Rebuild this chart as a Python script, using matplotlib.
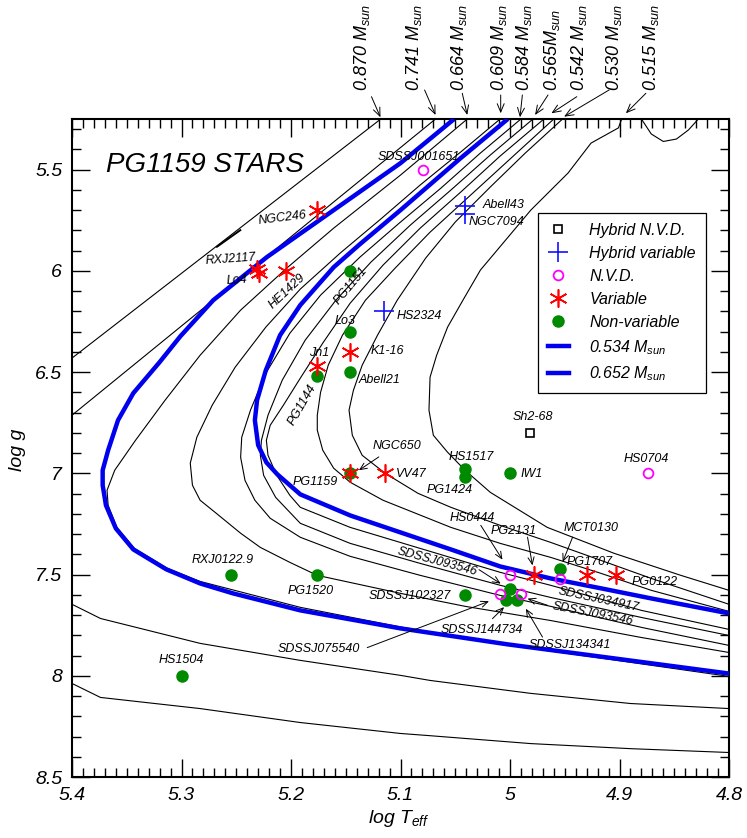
import numpy as np
import matplotlib
matplotlib.use('Agg')
import matplotlib.pyplot as plt
from matplotlib.lines import Line2D
from matplotlib.ticker import MultipleLocator, FixedLocator, FixedFormatter

plt.rcParams['font.family'] = ['Liberation Sans', 'DejaVu Sans']
plt.rcParams['font.style'] = 'italic'
plt.rcParams['mathtext.fontset'] = 'custom'
plt.rcParams['mathtext.it'] = 'Liberation Sans:italic'
plt.rcParams['mathtext.rm'] = 'Liberation Sans:italic'
plt.rcParams['mathtext.default'] = 'it'

nan = np.nan

# ---------------- evolutionary tracks (log Teff, log g) ----------------
track_0870_T = [5.118, 5.400, nan, 5.400, 5.374, 5.283, 5.1915, 5.100, 5.073, 4.981, 4.890, 4.800]
track_0870_g = [5.250, 6.431, nan, 8.038, 8.107, 8.162, 8.231, 8.285, 8.296, 8.335, 8.360, 8.379]
track_0870_loop_T = [5.2676, 5.2463]
track_0870_loop_g = [5.881, 5.799]

track_0741_T = [5.068, 5.400, nan, 5.400, 5.374, 5.283, 5.1915, 5.100, 5.073, 4.981, 4.890, 4.800]
track_0741_g = [5.250, 6.713, nan, 7.647, 7.717, 7.840, 7.924, 7.998, 8.023, 8.087, 8.137, 8.162]

track_0664_T = [5.039, 5.100, 5.161, 5.204, 5.246, 5.283, 5.315, 5.342, 5.361, 5.368, 5.367, 5.359,
                5.343, 5.313, 5.283, 5.1915, 5.100, 5.002, 4.905, 4.800]
track_0664_g = [5.250, 5.527, 5.789, 5.987, 6.194, 6.417, 6.639, 6.837, 6.985, 7.084, 7.158, 7.267,
                7.371, 7.469, 7.534, 7.662, 7.759, 7.848, 7.922, 8.003]

track_0609_T = [5.009, 5.045, 5.082, 5.118, 5.155, 5.1915, 5.223, 5.251, 5.272, 5.286, 5.292, 5.290,
                5.283, 5.267, 5.246, 5.228, 5.201, 5.176, 5.100, 5.041, 4.963, 4.880, 4.800]
track_0609_g = [5.250, 5.413, 5.576, 5.744, 5.912, 6.090, 6.278, 6.476, 6.664, 6.822, 6.950, 7.059,
                7.133, 7.203, 7.296, 7.366, 7.440, 7.504, 7.593, 7.657, 7.727, 7.811, 7.885]

track_0584_T = [4.990, 5.027, 5.063, 5.100, 5.137, 5.173, 5.201, 5.223, 5.237, 5.245, 5.246, 5.242,
                5.233, 5.219, 5.1915, 5.146, 5.082, 5.009, 4.963, 4.880, 4.800]
track_0584_g = [5.250, 5.418, 5.591, 5.759, 5.932, 6.120, 6.308, 6.506, 6.688, 6.822, 6.921, 7.035,
                7.133, 7.222, 7.316, 7.410, 7.504, 7.603, 7.657, 7.761, 7.850]

track_extra_T = [4.979, 5.018, 5.054, 5.091, 5.127, 5.159, 5.187, 5.208, 5.221, 5.227, 5.228, 5.225,
                 5.214, 5.1915, 5.146, 5.082, 5.009, 4.963, 4.880, 4.800]
track_extra_g = [5.250, 5.428, 5.601, 5.774, 5.957, 6.145, 6.342, 6.540, 6.713, 6.837, 6.911, 7.010,
                 7.119, 7.247, 7.346, 7.445, 7.553, 7.613, 7.712, 7.801]

track_0565_T = [4.969, 5.009, 5.045, 5.082, 5.116, 5.146, 5.171, 5.1915, 5.207, 5.219, 5.2225, 5.221,
                5.213, 5.201, 5.1915, 5.146, 5.082, 5.009, 4.963, 4.880, 4.800]
track_0565_g = [5.250, 5.433, 5.611, 5.789, 5.972, 6.160, 6.357, 6.530, 6.664, 6.763, 6.837, 6.911,
                7.010, 7.109, 7.168, 7.267, 7.371, 7.489, 7.553, 7.677, 7.771]

track_0542_T = [4.960, 4.999, 5.036, 5.073, 5.105, 5.132, 5.153, 5.166, 5.173, 5.176, 5.176, 5.171,
                5.161, 5.146, 5.116, 5.054, 5.009, 4.963, 4.917, 4.871, 4.800]
track_0542_g = [5.250, 5.443, 5.626, 5.809, 5.987, 6.145, 6.318, 6.466, 6.600, 6.713, 6.787, 6.886,
                6.975, 7.044, 7.133, 7.267, 7.346, 7.415, 7.494, 7.578, 7.682]

track_0530_T = [4.952, 4.986, 5.018, 5.050, 5.077, 5.103, 5.121, 5.135, 5.143, 5.147, 5.144, 5.135,
                5.114, 5.084, 5.054, 5.009, 4.963, 4.917, 4.871, 4.800]
track_0530_g = [5.250, 5.418, 5.586, 5.759, 5.937, 6.145, 6.318, 6.466, 6.590, 6.688, 6.812, 6.911,
                7.000, 7.099, 7.168, 7.257, 7.341, 7.430, 7.519, 7.647]

track_0515_T = [4.880, 4.871, 4.860, 4.848, 4.837, 4.828, nan,
                4.898, 4.901, 4.926, 4.947, 4.981, 5.027, 5.043, 5.057, 5.067, 5.073, 5.074, 5.070,
                5.057, 5.041, 5.018, 4.966, 4.905, 4.844, 4.800]
track_0515_g = [5.250, 5.324, 5.361, 5.349, 5.304, 5.250, nan,
                5.250, 5.294, 5.369, 5.517, 5.700, 5.996, 6.145, 6.278, 6.417, 6.525, 6.688, 6.812,
                6.896, 6.985, 7.094, 7.267, 7.395, 7.504, 7.578]

blue_0534_T = [5.002, 5.045, 5.100, 5.137, 5.161, 5.1915, 5.210, 5.223, 5.231, 5.233, 5.230, 5.2225,
               5.2125, 5.1915, 5.146, 5.100, 5.054, 5.009, 4.963, 4.917, 4.871, 4.800]
blue_0534_g = [5.250, 5.443, 5.700, 5.868, 5.982, 6.169, 6.318, 6.491, 6.639, 6.738, 6.861, 6.946,
               7.005, 7.104, 7.208, 7.292, 7.376, 7.460, 7.519, 7.568, 7.618, 7.692]

blue_0652_T = [5.051, 5.100, 5.161, 5.222, 5.271, 5.301, 5.320, 5.344, 5.358, 5.367, 5.372, 5.372,
               5.369, 5.360, 5.344, 5.314, 5.283, 5.253, 5.1915, 5.100, 5.002, 4.905, 4.800]
blue_0652_g = [5.250, 5.468, 5.700, 5.932, 6.145, 6.323, 6.451, 6.604, 6.738, 6.886, 6.985, 7.059,
               7.158, 7.272, 7.376, 7.474, 7.544, 7.593, 7.677, 7.766, 7.845, 7.914, 7.989]

# ---------------- stars ----------------
hyb_nvd_names = ['Sh2-68']
hyb_nvd_T = [4.982]
hyb_nvd_g = [6.80]

hyb_var_names = ['Abell43', 'NGC7094', 'HS2324']
hyb_var_T = [5.041, 5.041, 5.115]
hyb_var_g = [5.68, 5.72, 6.20]

nvd_names = ['SDSSJ001651', 'HS0704', 'HS0444', 'SDSSJ034917', 'SDSSJ075540', 'SDSSJ093546']
nvd_T = [5.079, 4.874, 5.000, 4.954, 5.009, 4.990]
nvd_g = [5.50, 7.00, 7.50, 7.52, 7.595, 7.598]

var_names = ['NGC246', 'RXJ2117', 'Lo4', 'HE1429', 'K1-16', 'Jn1', 'PG1159', 'VV47',
             'PG2131', 'PG1707', 'PG0122']
var_T = [5.176, 5.231, 5.229, 5.205, 5.146, 5.176, 5.146, 5.114, 4.978, 4.930, 4.903]
var_g = [5.70, 5.99, 6.01, 6.00, 6.40, 6.47, 7.00, 7.00, 7.50, 7.50, 7.50]

nonvar_names = ['PG1151', 'Lo3', 'Abell21', 'PG1144', 'NGC650', 'HS1517', 'PG1424', 'IW1',
                'MCT0130', 'SDSSJ102327', 'SDSSJ093546', 'SDSSJ144734', 'SDSSJ134341',
                'RXJ0122.9', 'PG1520', 'HS1504']
nonvar_T = [5.146, 5.146, 5.146, 5.176, 5.146, 5.041, 5.041, 5.000,
            4.954, 5.041, 5.000, 5.0035, 4.994, 5.255, 5.176, 5.300]
nonvar_g = [6.00, 6.30, 6.50, 6.52, 7.00, 6.98, 7.02, 7.00,
            7.475, 7.60, 7.57, 7.628, 7.628, 7.50, 7.50, 8.00]

mass_labels = ['0.870 $M_{sun}$', '0.741 $M_{sun}$', '0.664 $M_{sun}$', '0.609 $M_{sun}$',
               '0.584 $M_{sun}$', '0.565$M_{sun}$', '0.542 $M_{sun}$', '0.530 $M_{sun}$',
               '0.515 $M_{sun}$']

# ---------------- figure ----------------
fig = plt.figure(figsize=(7.47, 8.38), dpi=100)
ax = fig.add_axes([72/747, 1-777/838, 657/747, 658/838])

blk = dict(color='black', lw=0.8, solid_joinstyle='round', zorder=2)
for T, g in [(track_0870_T, track_0870_g), (track_0741_T, track_0741_g),
             (track_0664_T, track_0664_g), (track_0609_T, track_0609_g),
             (track_0584_T, track_0584_g), (track_extra_T, track_extra_g),
             (track_0565_T, track_0565_g), (track_0542_T, track_0542_g),
             (track_0530_T, track_0530_g), (track_0515_T, track_0515_g)]:
    ax.plot(T, g, **blk)
ax.plot(track_0870_loop_T, track_0870_loop_g, color='black', lw=1.4, zorder=2)

bl = dict(color='#0000ee', lw=3.2, solid_joinstyle='round', solid_capstyle='butt', zorder=3)
ax.plot(blue_0534_T, blue_0534_g, **bl)
ax.plot(blue_0652_T, blue_0652_g, **bl)

star_marker = (6, 2, 0)
ax.plot(hyb_nvd_T, hyb_nvd_g, ls='none', marker='s', ms=6, mfc='none', mec='black', mew=1.2, zorder=5)
ax.plot(hyb_var_T, hyb_var_g, ls='none', marker='+', ms=14, mec='#1010ff', mew=1.2, zorder=5)
ax.plot(nvd_T, nvd_g, ls='none', marker='o', ms=7, mfc='none', mec='#ff00ff', mew=1.3, zorder=6)
ax.plot(nonvar_T, nonvar_g, ls='none', marker='o', ms=8, mfc='#008a00', mec='#008a00', zorder=5)
ax.plot(var_T, var_g, ls='none', marker=star_marker, ms=13, mec='#ff0000', mew=1.2, zorder=6)

# ---------------- axes ----------------
ax.set_xlim(5.4, 4.8)
ax.set_ylim(8.5, 5.25)
xt = [5.4, 5.3, 5.2, 5.1, 5.0, 4.9, 4.8]
yt = [5.5, 6.0, 6.5, 7.0, 7.5, 8.0, 8.5]
ax.xaxis.set_major_locator(FixedLocator(xt))
ax.xaxis.set_major_formatter(FixedFormatter(['5.4', '5.3', '5.2', '5.1', '5', '4.9', '4.8']))
ax.yaxis.set_major_locator(FixedLocator(yt))
ax.yaxis.set_major_formatter(FixedFormatter(['5.5', '6', '6.5', '7', '7.5', '8', '8.5']))
ax.xaxis.set_minor_locator(MultipleLocator(0.01))
ax.yaxis.set_minor_locator(MultipleLocator(0.1))
ax.tick_params(which='both', direction='in', top=True, right=True, width=1.0)
ax.tick_params(which='major', length=13, labelsize=14, pad=7)
ax.tick_params(which='minor', length=6.5)
for s in ax.spines.values():
    s.set_linewidth(1.5)

ax.set_xlabel('log $T_{eff}$', fontsize=14)
ax.xaxis.set_label_coords(0.498, -0.047)
ax.set_ylabel('log g', fontsize=14)
ax.yaxis.set_label_coords(-0.07, 0.497)

ax.text(0.052, 0.93, 'PG1159 STARS', transform=ax.transAxes, fontsize=20,
        ha='left', va='center')

# ---------------- star labels ----------------
fs = 9
labels = [
    ('NGC246', 5.208, 5.741, 7, 'center'),
    ('RXJ2117', 5.2548, 5.9435, 4, 'center'),
    ('Lo4', 5.2493, 6.046, 4, 'center'),
    ('HE1429', 5.2036, 6.099, 43, 'center'),
    ('PG1151', 5.145, 6.074, 50, 'center'),
    ('SDSSJ001651', 5.0835, 5.436, 0, 'center'),
    ('Abell43', 5.0253, 5.675, 0, 'left'),
    ('NGC7094', 5.0374, 5.758, 0, 'left'),
    ('HS2324', 5.1039, 6.222, 0, 'left'),
    ('Lo3', 5.1509, 6.247, 0, 'center'),
    ('K1-16', 5.1274, 6.395, 0, 'left'),
    ('Abell21', 5.138, 6.540, 0, 'left'),
    ('Jn1', 5.1747, 6.408, 0, 'center'),
    ('PG1144', 5.1899, 6.664, 60, 'center'),
    ('NGC650', 5.1029, 6.865, 0, 'center'),
    ('PG1159', 5.1777, 7.043, 0, 'center'),
    ('VV47', 5.1045, 7.005, 0, 'left'),
    ('HS1517', 5.0358, 6.919, 0, 'center'),
    ('PG1424', 5.0549, 7.084, 0, 'center'),
    ('IW1', 4.9902, 7.005, 0, 'left'),
    ('Sh2-68', 4.9795, 6.7215, 0, 'center'),
    ('HS0704', 4.8753, 6.927, 0, 'center'),
    ('HS0444', 5.0343, 7.219, 0, 'center'),
    ('PG2131', 4.9964, 7.285, 0, 'center'),
    ('MCT0130', 4.9256, 7.270, 0, 'center'),
    ('PG1707', 4.9269, 7.438, 0, 'center'),
    ('PG0122', 4.8677, 7.537, 0, 'center'),
    ('SDSSJ093546', 5.0664, 7.435, -15, 'center'),
    ('SDSSJ034917', 4.9195, 7.623, -12, 'center'),
    ('SDSSJ093546', 4.9241, 7.693, -11, 'center'),
    ('SDSSJ102327', 5.0917, 7.608, 0, 'center'),
    ('SDSSJ144734', 5.0253, 7.776, 0, 'center'),
    ('SDSSJ134341', 4.9450, 7.847, 0, 'center'),
    ('SDSSJ075540', 5.1747, 7.870, 0, 'center'),
    ('RXJ0122.9', 5.2625, 7.430, 0, 'center'),
    ('PG1520', 5.1823, 7.583, 0, 'center'),
    ('HS1504', 5.3003, 7.924, 0, 'center'),
]
for txt, x, y, rot, ha in labels:
    ax.text(x, y, txt, fontsize=fs, rotation=rot, ha=ha, va='center',
            rotation_mode='anchor', zorder=7)

arr = dict(arrowstyle='->,head_length=0.5,head_width=0.22', lw=0.7, color='black',
           shrinkA=0, shrinkB=0)
pointers = [
    ((5.1198, 6.919), (5.138, 6.985)),
    ((5.0267, 7.257), (5.0069, 7.4265)),
    ((4.984, 7.315), (4.9795, 7.4546)),
    ((4.9428, 7.315), (4.9519, 7.438)),
    ((5.0283, 7.476), (5.0085, 7.545)),
    ((4.9657, 7.652), (4.984, 7.619)),
    ((5.016, 7.718), (5.0054, 7.661)),
    ((4.9703, 7.809), (4.9855, 7.669)),
    ((5.1304, 7.861), (5.0192, 7.632)),
]
for (x0, y0), (x1, y1) in pointers:
    ax.annotate('', xy=(x1, y1), xytext=(x0, y0), arrowprops=arr, zorder=7)

# ---------------- mass labels above the frame ----------------
top_text_x = [5.135, 5.0878, 5.0467, 5.010, 4.9872, 4.9612, 4.9369, 4.9049, 4.8713]
top_arrow_from = [(5.1265, 5.1398), (5.078, 5.1067), (5.0436, 5.123), (5.0085, 5.1314),
                  (4.9887, 5.1314), (4.9653, 5.1314), (4.939, 5.1398), (4.9095, 5.1067),
                  (4.8759, 5.123)]
top_arrow_to = [(5.1183, 5.2416), (5.068, 5.2302), (5.039, 5.2302), (5.0085, 5.2218),
                (4.9909, 5.2416), (4.9771, 5.2302), (4.9622, 5.2218), (4.9506, 5.2386),
                (4.8942, 5.2218)]
arr2 = dict(arrowstyle='->,head_length=0.6,head_width=0.25', lw=0.7, color='black',
            shrinkA=0, shrinkB=0)
for lab, tx, a0, a1 in zip(mass_labels, top_text_x, top_arrow_from, top_arrow_to):
    ax.text(tx, 5.1116, lab, rotation=90, ha='center', va='bottom', fontsize=13,
            clip_on=False)
    ax.annotate('', xy=a1, xytext=a0, arrowprops=arr2, annotation_clip=False)

# ---------------- legend ----------------
handles = [
    Line2D([], [], ls='none', marker='s', ms=6, mfc='none', mec='black', mew=1.2),
    Line2D([], [], ls='none', marker='+', ms=14, mec='#1010ff', mew=1.2),
    Line2D([], [], ls='none', marker='o', ms=7, mfc='none', mec='#ff00ff', mew=1.3),
    Line2D([], [], ls='none', marker=star_marker, ms=13, mec='#ff0000', mew=1.2),
    Line2D([], [], ls='none', marker='o', ms=8, mfc='#008a00', mec='#008a00'),
    Line2D([], [], color='#0000ee', lw=3.2),
    Line2D([], [], color='#0000ee', lw=3.2),
]
names = ['Hybrid N.V.D.', 'Hybrid variable', 'N.V.D.', 'Variable', 'Non-variable',
         '0.534 $M_{sun}$', '0.652 $M_{sun}$']
leg = ax.legend(handles, names, loc='upper left', bbox_to_anchor=(0.7098, 0.8567),
                borderaxespad=0, fontsize=11.5, frameon=True, fancybox=False,
                edgecolor='black', framealpha=1, handlelength=1.3, handletextpad=1.3,
                labelspacing=0.5, borderpad=0.6)
leg.get_frame().set_linewidth(0.9)

fig.savefig('out.png', dpi=100)
